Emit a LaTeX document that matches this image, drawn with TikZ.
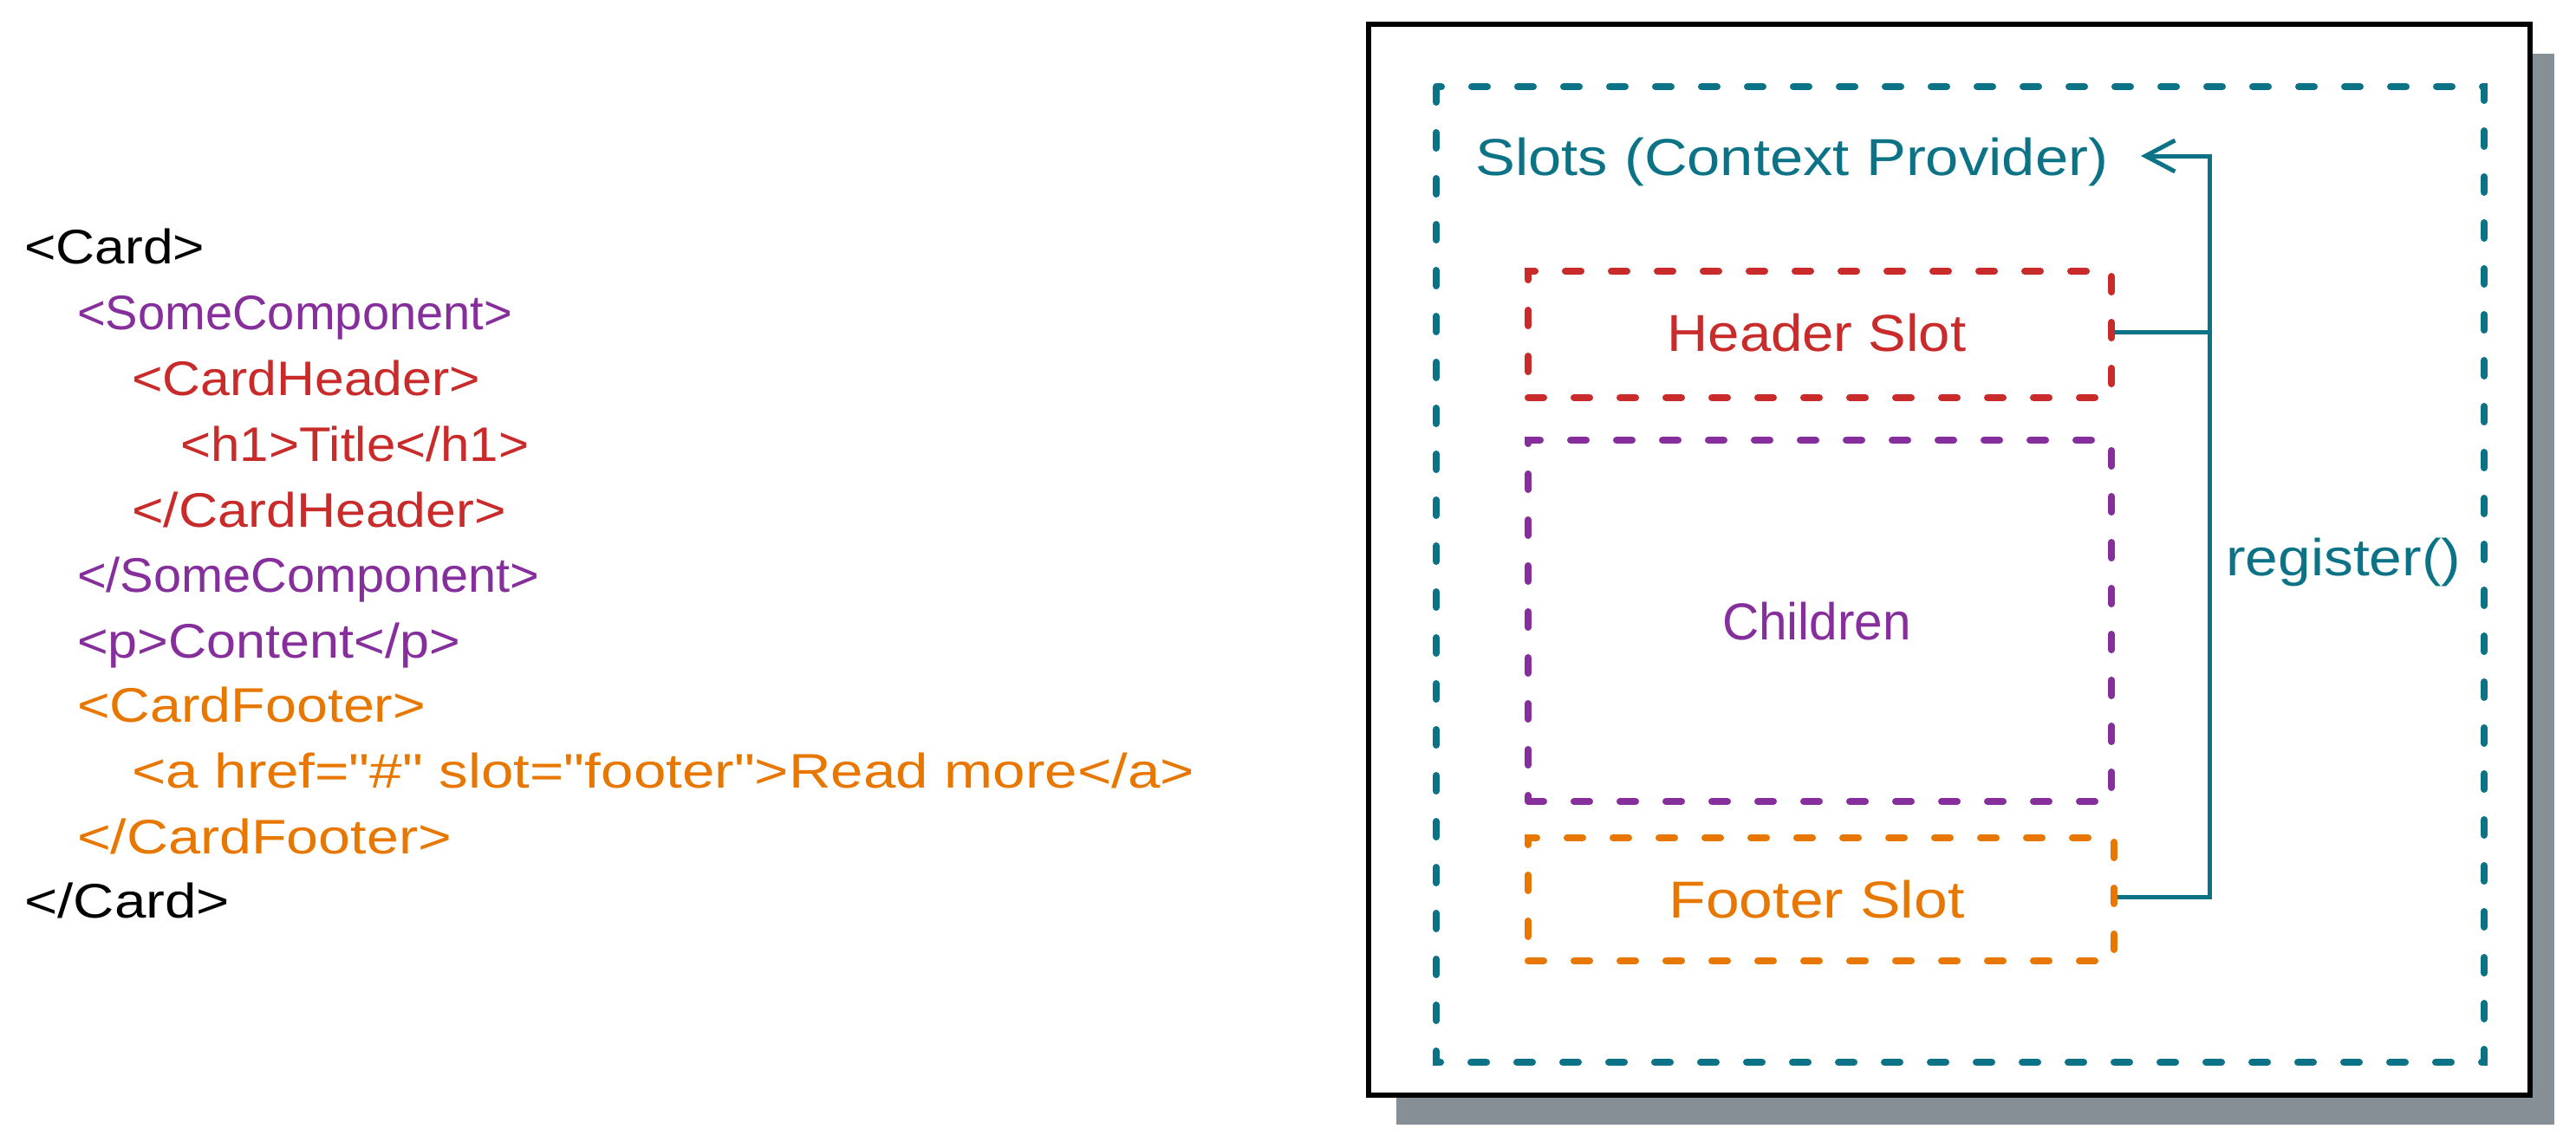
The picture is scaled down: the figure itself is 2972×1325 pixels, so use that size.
\documentclass[tikz,border=0pt]{standalone}
\usepackage{fontspec}
\setmainfont{Liberation Sans}
\usetikzlibrary{arrows.meta}
\definecolor{cteal}{HTML}{0C7387}
\definecolor{cred}{HTML}{C92A2A}
\definecolor{cpurple}{HTML}{862E9C}
\definecolor{corange}{HTML}{E87700}
\definecolor{cshadow}{HTML}{868E96}
\newlength\fwlen
\newcommand\fitw[2]{\settowidth\fwlen{#2}\pgfmathsetmacro\fwf{#1/\fwlen}\scalebox{\fwf}[1]{#2}}
\newcommand\q{\textquotedbl}
\tikzset{
  code/.style={anchor=base west, inner sep=0pt, font=\fontsize{56}{60}\selectfont},
  lbl/.style={anchor=base, inner sep=0pt, font=\fontsize{60}{64}\selectfont},
  dbox/.style={draw, line width=8pt, line cap=round, dash pattern=on 18pt off 35pt, inner sep=0pt},
  conn/.style={draw=cteal, line width=5pt},
}
\begin{document}
\begin{tikzpicture}[x=1pt,y=-1pt]
\useasboundingbox[fill=white] (0,0) rectangle (2972,1325);
% code listing
\node[code, text=black]   (c1)  at (28,304)  {\fitw{208}{<Card>}};
\node[code, text=cpurple] (c2)  at (89,380)  {\fitw{502}{<SomeComponent>}};
\node[code, text=cred]    (c3)  at (152,456) {\fitw{402}{<CardHeader>}};
\node[code, text=cred]    (c4)  at (208,532) {\fitw{402}{<h1>Title</h1>}};
\node[code, text=cred]    (c5)  at (152,608) {\fitw{432}{</CardHeader>}};
\node[code, text=cpurple] (c6)  at (89,683)  {\fitw{533}{</SomeComponent>}};
\node[code, text=cpurple] (c7)  at (89,759)  {\fitw{442}{<p>Content</p>}};
\node[code, text=corange] (c8)  at (89,833)  {\fitw{402}{<CardFooter>}};
\node[code, text=corange] (c9)  at (152,909) {\fitw{1226}{<a href=\q\#\q{} slot=\q{}footer\q>Read more</a>}};
\node[code, text=corange] (c10) at (89,985)  {\fitw{432}{</CardFooter>}};
\node[code, text=black]   (c11) at (28,1059) {\fitw{237}{</Card>}};
% card frame with shadow
\fill[cshadow] (1611,62) rectangle (2947,1298);
\draw[line width=6pt, fill=white] (1579,28) rectangle (2919,1264);
% provider dashed box
\draw[dbox, draw=cteal] (1657,100) rectangle (2866,1226);
\node[anchor=base west, inner sep=0pt, font=\fontsize{60}{64}\selectfont, text=cteal] (slots) at (1702,202) {\fitw{730}{Slots (Context Provider)}};
% slot boxes
\node[dbox, draw=cred, minimum width=673pt, minimum height=146pt] (hdr) at (2099.5,386) {};
\node[lbl, text=cred] (hdrt) at (2096,405) {\fitw{345}{Header Slot}};
\node[dbox, draw=cpurple, minimum width=673pt, minimum height=417pt] (chl) at (2099.5,716.5) {};
\node[lbl, text=cpurple] (chlt) at (2096,738) {\fitw{218}{Children}};
\node[dbox, draw=corange, minimum width=676pt, minimum height=142pt] (ftr) at (2101,1038) {};
\node[lbl, text=corange] (ftrt) at (2096,1059) {\fitw{341}{Footer Slot}};
% register connectors
\coordinate (bus) at (2549,180);
\coordinate (tip) at (2470,180);
\draw[conn] (hdr.east |- 0,383) -- (2549,383);
\draw[conn, -{Straight Barb[length=34pt, width=36pt, line width=5pt]}] (ftr.east |- 0,1035) -| (bus) -- (tip);
\node[anchor=base west, inner sep=0pt, font=\fontsize{60}{64}\selectfont, text=cteal] (reg) at (2568,664) {\fitw{271}{register()}};
\end{tikzpicture}
\end{document}
